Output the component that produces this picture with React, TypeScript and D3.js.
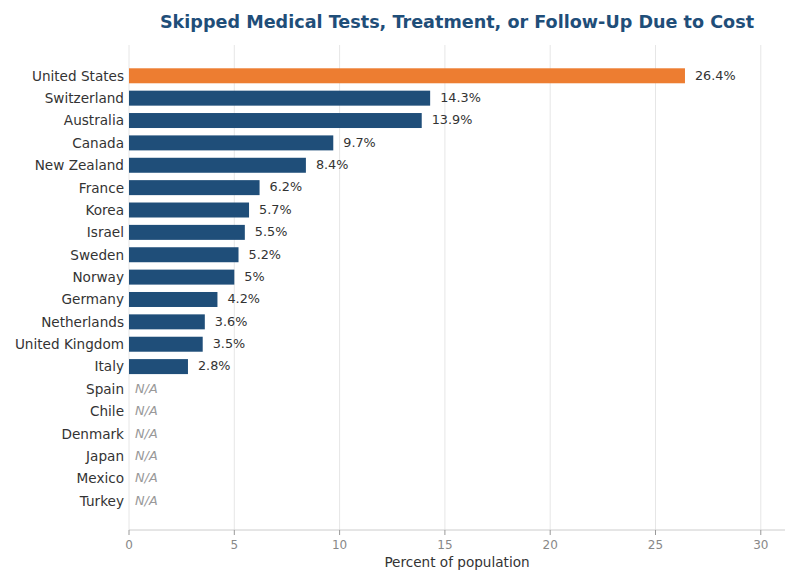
import React from 'react';
import * as d3 from 'd3';

const countries = [
  'United States', 'Switzerland', 'Australia', 'Canada', 'New Zealand', 'France',
  'Korea', 'Israel', 'Sweden', 'Norway', 'Germany', 'Netherlands', 'United Kingdom',
  'Italy', 'Spain', 'Chile', 'Denmark', 'Japan', 'Mexico', 'Turkey',
];
const values: (number | null)[] = [
  26.4, 14.3, 13.9, 9.7, 8.4, 6.2, 5.7, 5.5, 5.2, 5, 4.2, 3.6, 3.5, 2.8,
  null, null, null, null, null, null,
];
const xTicks = [0, 5, 10, 15, 20, 25, 30];

const W = 800;
const H = 583;
const left = 129;
const right = 785;
const top = 45;
const bottom = 530;

const font = '"DejaVu Sans", Verdana, sans-serif';

export default function App() {
  const x = d3.scaleLinear().domain([0, 31.15]).range([left, right]);
  const y = d3.scaleBand<string>()
    .domain(countries)
    .range([64.6, 512])
    .paddingInner(0.33)
    .paddingOuter(0.165);

  return (
    <svg width={W} height={H} style={{ position: 'absolute', left: 0, top: 0 }} fontFamily={font}>
      <rect width={W} height={H} fill="#fff" />
      <text x={(left + right) / 2} y={28} textAnchor="middle" fontSize={17.6} fontWeight="bold" fill="#1f4e79">
        Skipped Medical Tests, Treatment, or Follow-Up Due to Cost
      </text>

      {/* grid */}
      <g>
        {xTicks.map(t => (
          <line key={t} x1={x(t)} x2={x(t)} y1={top} y2={bottom} stroke="#e6e6e6" strokeWidth={1} />
        ))}
      </g>

      {/* bars */}
      <g>
        {countries.map((c, i) => {
          const v = values[i];
          const yy = y(c)!;
          const cy = yy + y.bandwidth() / 2;
          return (
            <g key={c}>
              <text x={left - 5} y={cy} dy="0.36em" textAnchor="end" fontSize={13.6} fill="#333">{c}</text>
              {v != null ? (
                <>
                  <rect x={x(0)} y={yy} width={x(v) - x(0)} height={y.bandwidth()}
                    fill={i === 0 ? '#ed7d31' : '#1f4e79'} />
                  <text x={x(v) + 10} y={cy} dy="0.3em" fontSize={12.8} fill="#333">{`${v}%`}</text>
                </>
              ) : (
                <text x={x(0) + 6} y={cy} dy="0.3em" fontSize={12.8} fontStyle="italic" fill="#999">N/A</text>
              )}
            </g>
          );
        })}
      </g>

      {/* x axis */}
      <line x1={left} x2={right} y1={bottom} y2={bottom} stroke="#ccc" strokeWidth={1} />
      {xTicks.map(t => (
        <g key={t}>
          <line x1={x(t)} x2={x(t)} y1={bottom} y2={bottom + 5} stroke="#999" />
          <text x={x(t)} y={bottom + 19} textAnchor="middle" fontSize={12} fill="#888">{t}</text>
        </g>
      ))}
      <text x={(left + right) / 2} y={567} textAnchor="middle" fontSize={13.6} fill="#333">Percent of population</text>
    </svg>
  );
}
